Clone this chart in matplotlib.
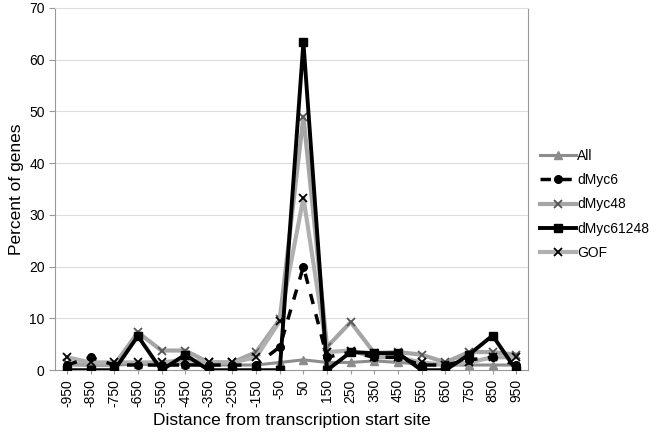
import matplotlib.pyplot as plt
import numpy as np

plt.rcParams['font.family'] = ['Liberation Sans', 'DejaVu Sans']

positions = [-950, -850, -750, -650, -550, -450, -350, -250, -150, -50,
             50, 150, 250, 350, 450, 550, 650, 750, 850, 950]

all_genes = [1.0, 1.0, 1.0, 1.2, 1.0, 1.2, 1.0, 1.0, 1.0, 1.5,
             2.0, 1.5, 1.5, 1.8, 1.5, 1.2, 1.0, 1.0, 1.0, 1.0]
dmyc6 = [1.0, 2.5, 1.0, 1.0, 1.0, 1.0, 1.0, 1.0, 1.0, 4.5,
         20.0, 2.5, 3.5, 2.5, 2.5, 1.0, 1.0, 2.0, 2.5, 1.0]
dmyc48 = [1.3, 1.0, 1.0, 7.3, 3.8, 3.8, 1.5, 1.5, 3.5, 9.8,
          49.0, 4.5, 9.3, 3.3, 3.5, 3.0, 1.5, 3.5, 3.5, 3.0]
dmyc61248 = [0.0, 0.0, 0.0, 6.6, 0.0, 3.0, 0.0, 0.0, 0.0, 0.0,
             63.3, 0.0, 3.5, 3.3, 3.3, 0.0, 0.0, 3.0, 6.7, 0.0]
gof = [2.5, 1.5, 1.5, 1.5, 1.5, 2.0, 1.5, 1.5, 2.5, 9.5,
       33.3, 3.5, 3.8, 2.5, 2.5, 1.5, 1.0, 1.5, 2.5, 2.5]

px = 1/100
fig = plt.figure(figsize=(656*px, 434*px), dpi=100)
ax = fig.add_axes([0.084, 0.147, 0.721, 0.835])

x = np.arange(len(positions))

ax.plot(x, all_genes, color='#8c8c8c', lw=2.2, marker='^', ms=5.5, label='All', zorder=3)
ax.plot(x, dmyc6, color='black', lw=2.5, ls=(0, (3, 3)), marker='o', ms=5.5,
        label='dMyc6', zorder=4)
ax.plot(x, dmyc48, color='#a5a5a5', lw=3.0, marker='x', ms=6, mew=1.3,
        mec='#555555', label='dMyc48', zorder=3)
ax.plot(x, dmyc61248, color='black', lw=2.8, marker='s', ms=6,
        label='dMyc61248', zorder=5)
ax.plot(x, gof, color='#b0b0b0', lw=3.0, marker='x', ms=6, mew=1.3,
        mec='black', label='GOF', zorder=3)

ax.set_xlim(-0.5, len(positions) - 0.5)
ax.set_ylim(0, 70)
ax.set_yticks(range(0, 71, 10))
ax.set_xticks(x)
ax.set_xticklabels([str(p) for p in positions], rotation=90, fontsize=10)
ax.tick_params(axis='y', labelsize=10, length=4, color='#999999')
ax.tick_params(axis='x', length=3, color='#999999')
ax.yaxis.grid(True, color='#dddddd', lw=0.8)
ax.set_axisbelow(True)

for s in ['left', 'bottom', 'right']:
    ax.spines[s].set_color('#999999')
ax.spines['top'].set_color('#dddddd')

ax.set_ylabel('Percent of genes', fontsize=12.5)
ax.set_xlabel('Distance from transcription start site', fontsize=12.5)

fig.legend(loc='upper left', bbox_to_anchor=(0.808, 0.68), frameon=False,
           fontsize=10, handlelength=2.6, handletextpad=0.1, labelspacing=0.75,
           borderpad=0.2)

fig.savefig('out.png', dpi=100)
